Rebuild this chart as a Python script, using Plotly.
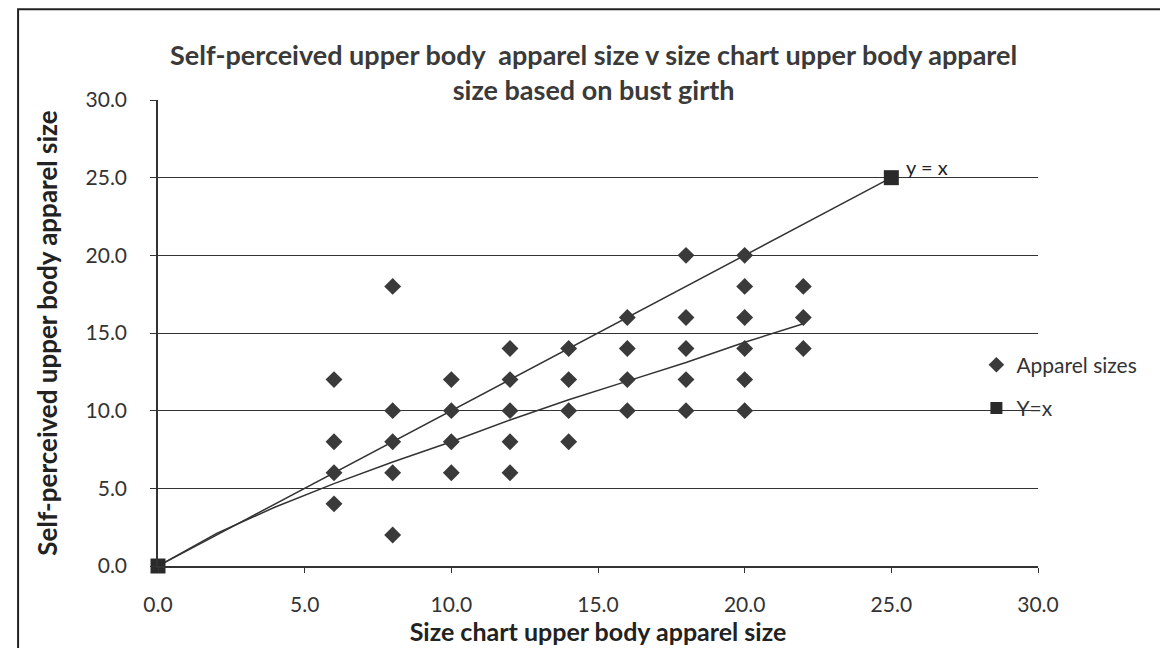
import plotly.graph_objects as go

# size chart size (x) v self-perceived size (y)
size_chart = [6, 6, 6, 6,
              8, 8, 8, 8, 8,
              10, 10, 10, 10,
              12, 12, 12, 12, 12,
              14, 14, 14, 14,
              16, 16, 16, 16,
              18, 18, 18, 18, 18,
              20, 20, 20, 20, 20, 20,
              22, 22, 22]
self_perceived = [12, 8, 6, 4,
                  18, 10, 8, 6, 2,
                  12, 10, 8, 6,
                  14, 12, 10, 8, 6,
                  14, 12, 10, 8,
                  16, 14, 12, 10,
                  20, 16, 14, 12, 10,
                  20, 18, 16, 14, 12, 10,
                  18, 16, 14]

# reference line y = x
ref_x = [0, 25]
ref_y = [0, 25]

# fitted curve drawn under the points
fit_x = [0, 2, 4, 6, 8, 10, 12, 14, 16, 18, 20, 22]
fit_y = [0, 2.1, 3.8, 5.3, 6.7, 8.0, 9.4, 10.7, 11.9, 13.1, 14.4, 15.6]

tick_vals = [0, 5, 10, 15, 20, 25, 30]
tick_text = ['0.0', '5.0', '10.0', '15.0', '20.0', '25.0', '30.0']

FONT = 'Lato'
DARK = '#3a3a3a'

fig = go.Figure()

fig.add_trace(go.Scatter(
    x=fit_x, y=fit_y, mode='lines',
    line=dict(color='#333333', width=1.5),
    showlegend=False, hoverinfo='skip'
))
fig.add_trace(go.Scatter(
    x=ref_x, y=ref_y, mode='lines',
    line=dict(color='#333333', width=1.5),
    showlegend=False, hoverinfo='skip'
))
fig.add_trace(go.Scatter(
    x=size_chart, y=self_perceived, mode='markers',
    name='Apparel sizes', legendgroup='a',
    marker=dict(symbol='diamond', size=13, color=DARK)
))
fig.add_trace(go.Scatter(
    x=ref_x, y=ref_y, mode='markers', cliponaxis=False,
    name='Y=x', legendgroup='b',
    marker=dict(symbol='square', size=15, color='#2a2a2a')
))

fig.add_annotation(
    x=25, y=25, text='y = x', showarrow=False,
    xanchor='left', yanchor='middle', xshift=13, yshift=11,
    font=dict(family=FONT, size=20, color='#222222')
)

# title, two lines; the second one sits on the top gridline
fig.add_annotation(
    xref='paper', yref='paper', x=0.495, y=1.0,
    text='<b>Self-perceived upper body  apparel size v size chart upper body apparel<br>size based on bust girth</b>',
    showarrow=False, xanchor='center', yanchor='bottom', yshift=-8,
    font=dict(family=FONT, size=27, color='#3a3a3a')
)

# outer chart border
fig.add_shape(
    type='rect', xref='paper', yref='paper',
    x0=-0.159, x1=1.151, y0=-0.187, y1=1.195,
    line=dict(color='#222222', width=2)
)

fig.update_xaxes(
    range=[0, 30], tickvals=tick_vals, ticktext=tick_text,
    showgrid=False, zeroline=False,
    showline=True, linecolor='#333333', linewidth=1.5,
    ticks='outside', ticklen=5, tickcolor='#333333', ticklabelstandoff=14,
    tickfont=dict(family=FONT, size=21, color='#333333'),
    title=dict(text='<b>Size chart upper body apparel size</b>', standoff=6,
               font=dict(family=FONT, size=25, color='#222222'))
)
fig.update_yaxes(
    range=[0, 30], tickvals=tick_vals, ticktext=tick_text,
    showgrid=True, gridcolor='#333333', gridwidth=1, zeroline=False,
    showline=True, linecolor='#333333', linewidth=1.5,
    ticks='outside', ticklen=6, tickcolor='#333333', ticklabelstandoff=19,
    tickfont=dict(family=FONT, size=21, color='#333333'),
    title=dict(text='<b>Self-perceived upper body apparel size</b>', standoff=20,
               font=dict(family=FONT, size=26, color='#222222'))
)

fig.update_layout(
    width=1168, height=648,
    margin=dict(l=150, r=138, t=92, b=90),
    paper_bgcolor='white', plot_bgcolor='white',
    legend=dict(
        x=0.93, y=0.475, xanchor='left', yanchor='top',
        bgcolor='rgba(0,0,0,0)', traceorder='grouped', tracegroupgap=13,
        font=dict(family=FONT, size=21, color='#333333'),
        itemsizing='constant'
    ),
    font=dict(family=FONT)
)

fig.write_html('out.html')
